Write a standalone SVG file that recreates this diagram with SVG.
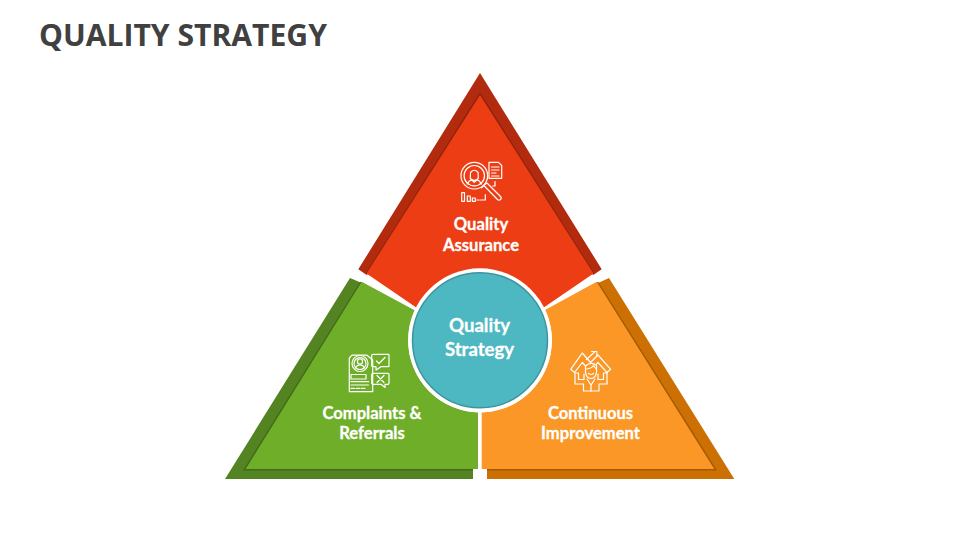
<svg xmlns="http://www.w3.org/2000/svg" width="960" height="540" viewBox="0 0 960 540">
<style>
.lbl{font-family:"Lato","Carlito","Liberation Sans",sans-serif;font-weight:700;font-size:16.6px;fill:#fff;stroke:#fff;stroke-width:.3;text-anchor:middle}
.ctr{font-family:"Lato","Carlito","Liberation Sans",sans-serif;font-weight:700;font-size:18.6px;fill:#fff;stroke:#fff;stroke-width:.3;text-anchor:middle}
.ic{fill:none;stroke:#fff;stroke-width:1.2;stroke-linejoin:round;stroke-linecap:round}
.edge{fill:none;stroke-width:3;stroke-linejoin:miter}
</style>
<rect width="960" height="540" fill="#fff"/>
<text x="39" y="46" font-family="'Open Sans','Liberation Sans',sans-serif" font-weight="700" font-size="30.1" fill="#404040">QUALITY STRATEGY</text>

<g id="node-quality-assurance">
<path d="M480 73L601.700 269.300L593.300 275L480 95L366.700 275L358.300 269.300Z" fill="#B32B0E"/>
<path class="edge" d="M367 274L480 95L593 274" stroke="#8F230B"/>
<path d="M480 95L593.500 273.500L543 308A72 72 0 0 0 417 308L366.500 273.500Z" fill="#EC3D14"/>
<g class="ic">
<circle cx="474.300" cy="175.700" r="13.300"/><circle cx="474.300" cy="175.700" r="10.200"/>
<path d="M470.500 172.500q3.800-4.500 7.600 0l.2 6q-4 4-8 0Z"/><path d="M467 184q2-3.600 4.500-4.200l2.800 2.600 2.800-2.600q2.500.6 4.500 4.200"/>
<path d="M489 162.300H498.500L501.700 165.500V178.300H489Z"/><path d="M491.500 167H499M491.500 170H499M491.500 173H496M491.500 176H499"/>
<path d="M483.800 185.500L497.500 199.500a2 2 0 0 0 3-3L487 183Z"/><path d="M481.500 187.800L484 185.500"/>
<rect x="461.700" y="192.700" width="2.800" height="8.600"/><rect x="467.300" y="196" width="3" height="5.300"/><rect x="472.300" y="198" width="3" height="3.300"/>
<path d="M476.800 200H479.200M480.500 200H485.300V194.500M495 181.500V186M492.800 186H495"/>
</g>
<text class="lbl" x="481" y="230">Quality</text>
<text class="lbl" x="481" y="250.500">Assurance</text>
</g>

<g id="node-complaints-referrals">
<path d="M350 278L363 283.500L245.700 469H473V479H225Z" fill="#548421"/>
<path class="edge" d="M361.500 282.500L245.700 469H473" stroke="#436A1A"/>
<path d="M361.700 281.700L415 310.500A72 72 0 0 0 478 412.500V469H245.700Z" fill="#6FAE28"/>
<g class="ic">
<path d="M352 355.200H367L372.700 360V391.700H349.300V358Z"/>
<circle cx="360" cy="363.500" r="8"/><circle cx="360" cy="363.500" r="6"/><circle cx="360" cy="361.500" r="2.600"/><path d="M355.500 368q1-3 4.500-3t4.500 3"/>
<rect x="351" y="374.500" width="15" height="4.500"/><path d="M351 381.700H368.500M351 385H368.500M351 388.300H354.500M356 388.300H360M361.500 388.300H365"/>
<path d="M373 354.300H388.500Q389 354.300 389 355V366Q389 366.700 388.500 366.700H381L376 370V366.700H373Q371.700 366.700 371.700 366V355.500Q371.700 354.300 373 354.300Z"/>
<path d="M376.500 361L379 363.500L385 357.500"/>
<path d="M373 373.300H388Q389 373.300 389 374.500V383Q389 384.300 388 384.300H385V387.500L381 384.300H373Q371.700 384.300 371.700 383V374.500Q371.700 373.300 373 373.300Z"/>
<path d="M377 375.500L384 382.500M384 375.500L377 382.500"/>
</g>
<text class="lbl" x="372" y="418.500">Complaints &amp;</text>
<text class="lbl" x="372" y="439">Referrals</text>
</g>

<g id="node-continuous-improvement">
<path d="M609 278L734.300 479H487V469H714.300L597 283.500Z" fill="#CC7004"/>
<path class="edge" d="M597 282.500L714.300 469H487" stroke="#A35A03"/>
<path d="M596.700 281.700L545 310A72 72 0 0 1 481.700 412.500V469H714.300Z" fill="#FB9726"/>
<g class="ic">
<path d="M574.500 372.500L570.700 369.300L582.300 353L590.500 362.500L598 355L610.700 369.300L607 372.500L598 362.500L596.500 364M574.500 372.500L582.300 362.500L585.500 366"/>
<path d="M586.500 359.500L594.500 352M591.500 351.500H596.800V356.500"/>
<path d="M575 373V384H583.500V391H599V384H607V373"/>
<path d="M575 373H578.500V379.500H584V374M607 373H603.500V379.500H598V374"/>
<path d="M585.500 366Q591 361 596.500 365.500V372Q596 378 591 378.500Q586 378 585.500 372Z"/>
<path d="M585.500 369Q591 369 593.500 365.500Q595 368 596.500 369M588.500 373.500Q591 375.500 593.500 373.500"/>
<path d="M587 379L591 385L595 379M591 385V391"/>
</g>
<text class="lbl" x="590.500" y="418.500">Continuous</text>
<text class="lbl" x="590.500" y="439">Improvement</text>
</g>

<g id="node-quality-strategy">
<circle cx="480" cy="340.300" r="72" fill="#fff"/>
<circle cx="480" cy="340.300" r="67.500" fill="#4DB8C1" stroke="#3E949E" stroke-width="1.500"/>
<text class="ctr" x="479.500" y="332">Quality</text>
<text class="ctr" x="479.500" y="356">Strategy</text>
</g>
<g id="connectors"></g>
</svg>
